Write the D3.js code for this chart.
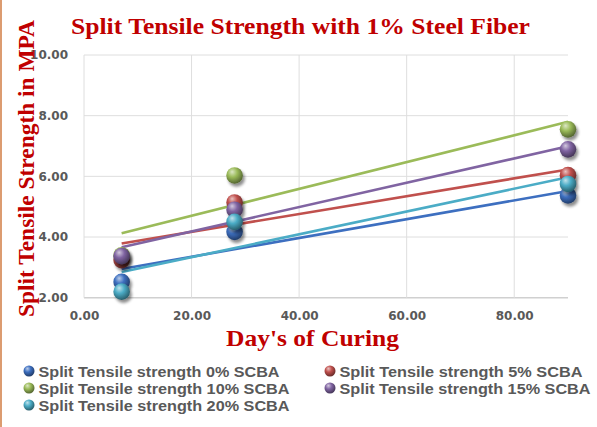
<!DOCTYPE html>
<html><head><meta charset="utf-8">
<script src="https://cdn.jsdelivr.net/npm/d3@7"></script>
<style>html,body{margin:0;padding:0;background:#fff;}svg{display:block;}</style>
</head><body>
<svg id="chart" width="597" height="427"></svg>
<script>
const days = [7, 28, 90];
const seriesNames = [
  "Split Tensile strength 0% SCBA",
  "Split Tensile strength 5% SCBA",
  "Split Tensile strength 10% SCBA",
  "Split Tensile strength 15% SCBA",
  "Split Tensile strength 20% SCBA"
];
const scba0  = [2.52, 4.17, 5.37];
const scba5  = [3.24, 5.14, 6.04];
const scba10 = [3.40, 6.03, 7.55];
const scba15 = [3.37, 4.90, 6.89];
const scba20 = [2.20, 4.50, 5.75];
const seriesColors = ["#3d6fc0", "#c0504d", "#9bbb59", "#8064a2", "#4bacc6"];
const xTicks = [0, 20, 40, 60, 80];
const yTicks = [2, 4, 6, 8, 10];
const titleText = "Split Tensile Strength with 1% Steel Fiber";
const xTitle = "Day's of Curing";
const yTitle = "Split Tensile Strength in MPA";

const allSeries = [scba0, scba5, scba10, scba15, scba20];
const svg = d3.select("#chart");
const M = {left: 84, right: 568, top: 55, bottom: 297.7};
const x = d3.scaleLinear().domain([0, 90]).range([M.left, M.right]);
const y = d3.scaleLinear().domain([2, 10]).range([M.bottom, M.top]);

// left border line
svg.append("line").attr("x1", 1).attr("x2", 1).attr("y1", 0).attr("y2", 427)
  .attr("stroke", "#c55a11").attr("stroke-width", 1.2);

const defs = svg.append("defs");
seriesColors.forEach((c, i) => {
  const g = defs.append("radialGradient").attr("id", "sph" + i)
    .attr("cx", "40%").attr("cy", "35%").attr("r", "65%").attr("fx", "35%").attr("fy", "28%");
  g.append("stop").attr("offset", "0%").attr("stop-color", d3.interpolateRgb(c, "#fff")(0.65));
  g.append("stop").attr("offset", "45%").attr("stop-color", c);
  g.append("stop").attr("offset", "100%").attr("stop-color", d3.interpolateRgb(c, "#000")(0.45));
});
const f = defs.append("filter").attr("id", "shadow").attr("x", "-50%").attr("y", "-50%").attr("width", "200%").attr("height", "200%");
f.append("feGaussianBlur").attr("in", "SourceAlpha").attr("stdDeviation", 1.6).attr("result", "b");
f.append("feOffset").attr("in", "b").attr("dx", 2).attr("dy", 2.5).attr("result", "o");
f.append("feComponentTransfer").attr("in", "o").attr("result", "o2")
  .append("feFuncA").attr("type", "linear").attr("slope", 0.45);
const fm = f.append("feMerge");
fm.append("feMergeNode").attr("in", "o2");
fm.append("feMergeNode").attr("in", "SourceGraphic");

// gridlines
const grid = svg.append("g");
grid.selectAll(".hg").data(yTicks).join("line")
  .attr("x1", M.left).attr("x2", M.right).attr("y1", d => y(d)).attr("y2", d => y(d))
  .attr("stroke", d => d === 2 ? "#d0d0d0" : "#dedede").attr("stroke-width", d => d === 2 ? 1.5 : 1);
grid.selectAll(".vg").data(xTicks).join("line")
  .attr("x1", d => x(d)).attr("x2", d => x(d)).attr("y1", M.top).attr("y2", M.bottom)
  .attr("stroke", "#dedede").attr("stroke-width", 1);

// axes tick labels
const xAxis = d3.axisBottom(x).tickValues(xTicks).tickFormat(d3.format(".2f")).tickSize(0).tickPadding(14);
const gx = svg.append("g").attr("transform", `translate(0,${M.bottom})`).call(xAxis);
gx.select(".domain").remove();
gx.selectAll("text").attr("fill", "#595959").style("font", "bold 12px 'DejaVu Sans'");
const yAxis = d3.axisLeft(y).tickValues(yTicks).tickFormat(d3.format(".2f")).tickSize(0).tickPadding(16);
const gy = svg.append("g").attr("transform", `translate(${M.left},0)`).call(yAxis);
gy.select(".domain").remove();
gy.selectAll("text").attr("fill", "#595959").style("font", "bold 12px 'DejaVu Sans'");

// trendlines (linear regression)
function regress(xs, ys) {
  const mx = d3.mean(xs), my = d3.mean(ys);
  let sxy = 0, sxx = 0;
  xs.forEach((xv, i) => { sxy += (xv - mx) * (ys[i] - my); sxx += (xv - mx) ** 2; });
  const b = sxy / sxx;
  return xv => my + b * (xv - mx);
}
const line = d3.line().x(d => x(d[0])).y(d => y(d[1]));
allSeries.forEach((s, i) => {
  const fn = regress(days, s);
  const ext = d3.extent(days);
  svg.append("path").datum([[ext[0], fn(ext[0])], [ext[1], fn(ext[1])]])
    .attr("d", line).attr("fill", "none").attr("stroke", seriesColors[i]).attr("stroke-width", 2.6);
});

// markers
allSeries.forEach((s, i) => {
  svg.append("g").selectAll("circle").data(s).join("circle")
    .attr("cx", (d, j) => x(days[j])).attr("cy", d => y(d)).attr("r", 8.3)
    .attr("fill", `url(#sph${i})`).attr("filter", "url(#shadow)");
});

// titles
svg.append("text").attr("x", 71).attr("y", 34)
  .attr("textLength", 459).attr("lengthAdjust", "spacingAndGlyphs")
  .attr("fill", "#c00000").style("font", "bold 24px 'Liberation Serif'").text(titleText);
svg.append("text").attr("x", 226).attr("y", 346)
  .attr("textLength", 173).attr("lengthAdjust", "spacingAndGlyphs")
  .attr("fill", "#c00000").style("font", "bold 24px 'Liberation Serif'").text(xTitle);
svg.append("text").attr("transform", "translate(33.5,317) rotate(-90)")
  .attr("textLength", 297).attr("lengthAdjust", "spacingAndGlyphs")
  .attr("fill", "#c00000").style("font", "bold 23px 'Liberation Serif'").text(yTitle);

// legend
const legPos = [[29, 371], [330, 371], [29, 388], [330, 388], [29, 405]];
const legLen = [241, 243, 251, 251, 251];
seriesNames.forEach((n, i) => {
  const g = svg.append("g").attr("transform", `translate(${legPos[i][0]},${legPos[i][1]})`);
  g.append("circle").attr("r", 5.5).attr("fill", `url(#sph${i})`);
  g.append("text").attr("x", 9.5).attr("y", 5.5).attr("fill", "#595959")
    .attr("textLength", legLen[i]).attr("lengthAdjust", "spacingAndGlyphs")
    .style("font", "bold 15px 'Liberation Sans'").text(n);
});
</script>
</body></html>
